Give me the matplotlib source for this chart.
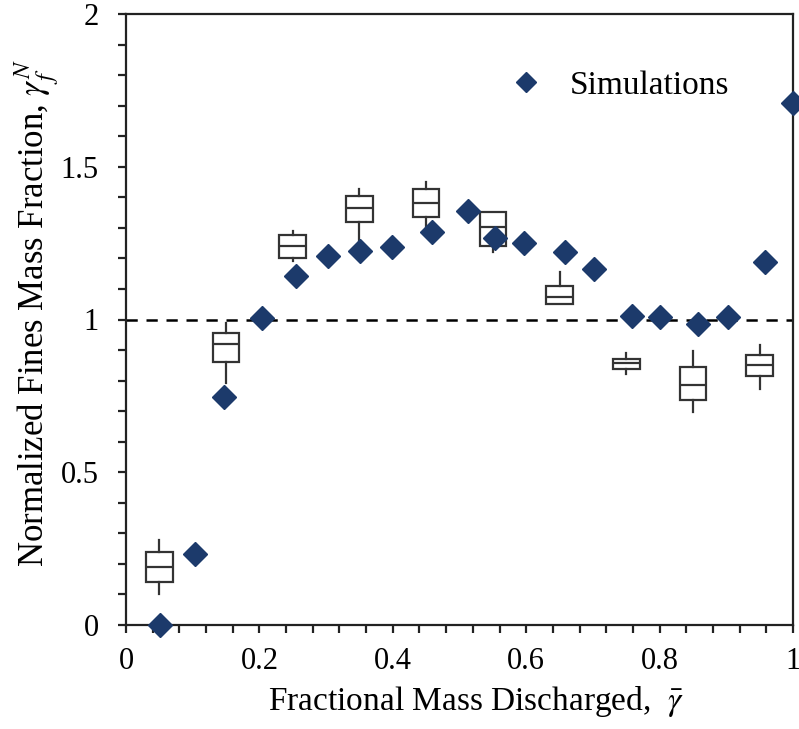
import matplotlib
matplotlib.use("Agg")
import matplotlib.pyplot as plt

plt.rcParams['font.family'] = ['Liberation Serif', 'DejaVu Serif']
plt.rcParams['mathtext.fontset'] = 'stix'

# Simulation points
sim_x = [0.051, 0.104, 0.147, 0.204, 0.255, 0.303, 0.351, 0.399, 0.459, 0.513,
         0.553, 0.597, 0.658, 0.702, 0.759, 0.801, 0.858, 0.903, 0.958, 1.0]
sim_y = [0.0, 0.232, 0.745, 1.005, 1.142, 1.208, 1.223, 1.237, 1.285, 1.354,
         1.266, 1.25, 1.22, 1.164, 1.013, 1.007, 0.984, 1.007, 1.187, 1.71]

# Experimental box plots
box_x = [0.05, 0.15, 0.25, 0.35, 0.45, 0.55, 0.65, 0.75, 0.85, 0.95]
whislo = [0.102, 0.793, 1.19, 1.23, 1.30, 1.22, 1.052, 0.823, 0.698, 0.774]
q1 = [0.141, 0.862, 1.20, 1.318, 1.334, 1.239, 1.052, 0.839, 0.738, 0.816]
med = [0.190, 0.921, 1.239, 1.364, 1.380, 1.302, 1.075, 0.856, 0.784, 0.852]
q3 = [0.239, 0.957, 1.275, 1.403, 1.426, 1.351, 1.111, 0.872, 0.843, 0.885]
whishi = [0.279, 0.987, 1.289, 1.426, 1.449, 1.351, 1.154, 0.889, 0.898, 0.918]

# Ticks
x_major = [0, 0.2, 0.4, 0.6, 0.8, 1.0]
x_major_labels = ['0', '0.2', '0.4', '0.6', '0.8', '1']
x_minor = [i * 0.04 for i in range(26)]
y_major = [0, 0.5, 1.0, 1.5, 2.0]
y_major_labels = ['0', '0.5', '1', '1.5', '2']
y_minor = [i * 0.1 for i in range(21)]

fig = plt.figure(figsize=(7.99, 7.29), dpi=100)
ax = fig.add_axes([126/799, 1-625/729, (793-126)/799, (625-14)/729])

navy = '#1c3a6b'
edge = '#333333'

stats = []
for i in range(len(box_x)):
    stats.append(dict(whislo=whislo[i], q1=q1[i], med=med[i], q3=q3[i], whishi=whishi[i], fliers=[]))
ax.bxp(stats, positions=box_x, widths=0.04, showcaps=False, showfliers=False,
       patch_artist=True, manage_ticks=False,
       boxprops=dict(facecolor='white', edgecolor=edge, linewidth=1.6),
       medianprops=dict(color=edge, linewidth=1.6),
       whiskerprops=dict(color=edge, linewidth=1.6), zorder=2)

ax.axhline(1.0, color='black', linestyle=(0, (4.5, 3.5)), linewidth=1.8, zorder=1)

ax.plot(sim_x, sim_y, linestyle='none', marker='D', markersize=12, color=navy,
        label='Simulations', zorder=4, clip_on=False)

ax.set_xlim(0, 1)
ax.set_ylim(0, 2)
ax.set_xticks(x_major)
ax.set_xticklabels(x_major_labels)
ax.set_xticks(x_minor, minor=True)
ax.set_yticks(y_major)
ax.set_yticklabels(y_major_labels)
ax.set_yticks(y_minor, minor=True)

for s in ax.spines.values():
    s.set_linewidth(1.6)
    s.set_color('#222222')
ax.tick_params(which='both', direction='out', length=5.5, width=1.6, color='#222222')
ax.tick_params(axis='x', which='major', labelsize=22, pad=10)
ax.tick_params(axis='y', which='major', labelsize=22, pad=14)

ax.set_xlabel(r'Fractional Mass Discharged,  $\bar{\gamma}$', fontsize=24, labelpad=6)
ax.xaxis.label.set_x(0.525)
ax.set_ylabel(r'Normalized Fines Mass Fraction, $\gamma_f^N$', fontsize=25, labelpad=0)
ax.yaxis.label.set_y(0.51)

ax.legend(loc='center left', bbox_to_anchor=(0.53, 0.883), frameon=False,
          fontsize=24, handlelength=1.0, handletextpad=0.82, numpoints=1,
          markerscale=0.85)

fig.savefig('out.png', dpi=100)
